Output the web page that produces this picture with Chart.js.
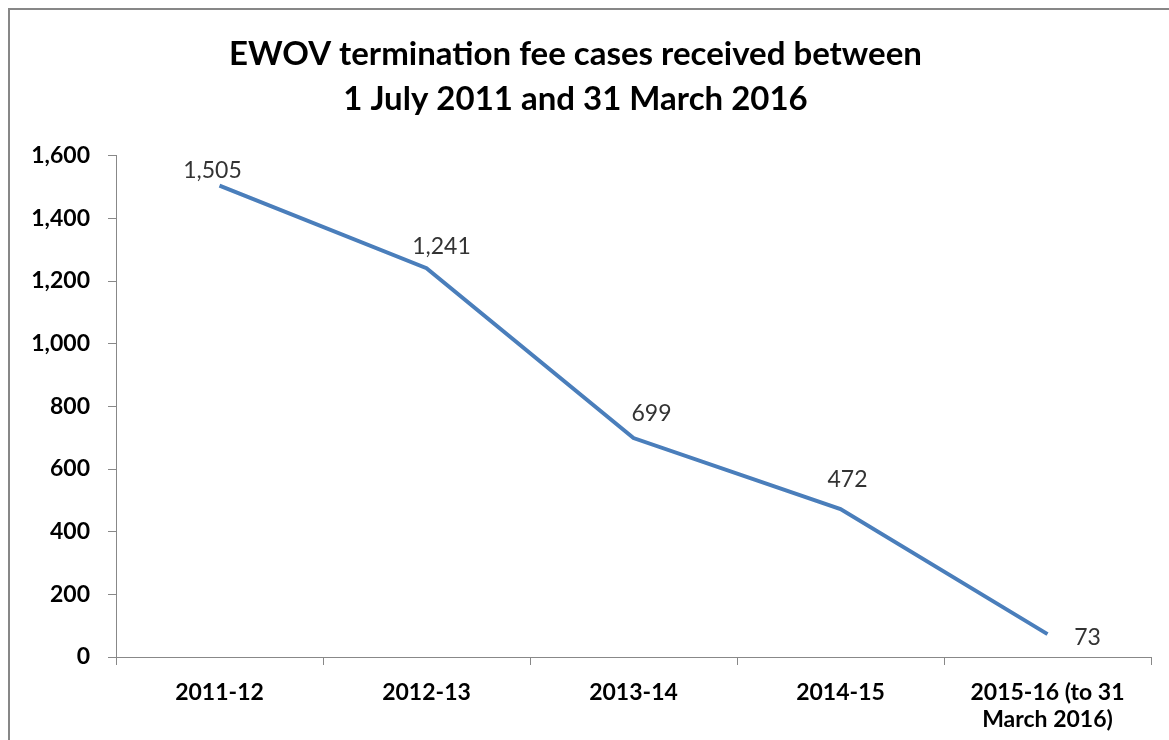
<!DOCTYPE html>
<html>
<head>
<meta charset="utf-8">
<script src="https://cdn.jsdelivr.net/npm/chart.js@4"></script>
<style>
  html, body { margin: 0; padding: 0; background: #fff; }
  #wrap { width: 1169px; height: 740px; position: relative; }
</style>
</head>
<body>
<div id="wrap"><canvas id="chart"></canvas></div>
<script>
// data
const categories = ['2011-12', '2012-13', '2013-14', '2014-15', ['2015-16 (to 31', 'March 2016)']];
const cases = [1505, 1241, 699, 472, 73];
const yTicks = [0, 200, 400, 600, 800, 1000, 1200, 1400, 1600];

const FONT = 'Lato, "Open Sans", sans-serif';

// value labels next to each point
const pointLabels = {
    id: 'pointLabels',
    afterDatasetsDraw(chart) {
        const ctx = chart.ctx;
        const meta = chart.getDatasetMeta(0);
        // where each label sits relative to its point
        const place = [[-7, -15], [15, -22], [18, -24], [7, -30], [40, 3]];
        ctx.save();
        ctx.font = '23px ' + FONT;
        ctx.fillStyle = '#333';
        ctx.textAlign = 'center';
        ctx.textBaseline = 'middle';
        meta.data.forEach((pt, i) => {
            const [dx, dy] = place[i];
            ctx.fillText(cases[i].toLocaleString('en-US'), pt.x + dx, pt.y + dy);
        });
        ctx.restore();
    }
};

// grey frame round the chart
const frame = {
    id: 'frame',
    beforeDraw(chart) {
        const ctx = chart.ctx;
        ctx.save();
        ctx.strokeStyle = '#878787';
        ctx.lineWidth = 2;
        ctx.beginPath();
        ctx.moveTo(9, chart.height);
        ctx.lineTo(9, 9);
        ctx.lineTo(chart.width, 9);
        ctx.stroke();
        ctx.restore();
    }
};

new Chart(document.getElementById('chart'), {
    type: 'line',
    data: {
        labels: categories,
        datasets: [{
            data: cases,
            borderColor: '#4a7ebb',
            borderWidth: 4,
            pointRadius: 0,
            tension: 0,
            fill: false
        }]
    },
    options: {
        responsive: true,
        maintainAspectRatio: false,
        animation: false,
        layout: { padding: { left: 0, right: 18, bottom: 0 } },
        plugins: {
            legend: { display: false },
            tooltip: { enabled: false },
            title: {
                display: true,
                text: ['EWOV termination fee cases received between', '1 July 2011 and 31 March 2016'],
                color: '#000',
                font: { family: FONT, size: 33, weight: 'bold', lineHeight: 1.36 },
                padding: { top: 32, bottom: 34 }
            }
        },
        scales: {
            x: {
                offset: true,
                border: { display: true, color: '#888', width: 1 },
                grid: { offset: true, drawOnChartArea: false, drawTicks: true, tickLength: 8, color: '#888' },
                ticks: {
                    color: '#000',
                    font: { family: FONT, size: 23, weight: 'bold', lineHeight: 1.18 },
                    padding: 14,
                    maxRotation: 0,
                    autoSkip: false
                },
                afterFit(scale) { scale.height = 83; }
            },
            y: {
                min: 0,
                max: 1600,
                afterBuildTicks(scale) { scale.ticks = yTicks.map(v => ({ value: v })); },
                border: { display: true, color: '#888', width: 1 },
                grid: { drawOnChartArea: false, drawTicks: true, tickLength: 8, color: '#888' },
                ticks: {
                    color: '#000',
                    font: { family: FONT, size: 23, weight: 'bold' },
                    padding: 18,
                    callback: v => v.toLocaleString('en-US')
                },
                afterFit(scale) { scale.width = 116; }
            }
        }
    },
    plugins: [pointLabels, frame]
});
</script>
</body>
</html>
